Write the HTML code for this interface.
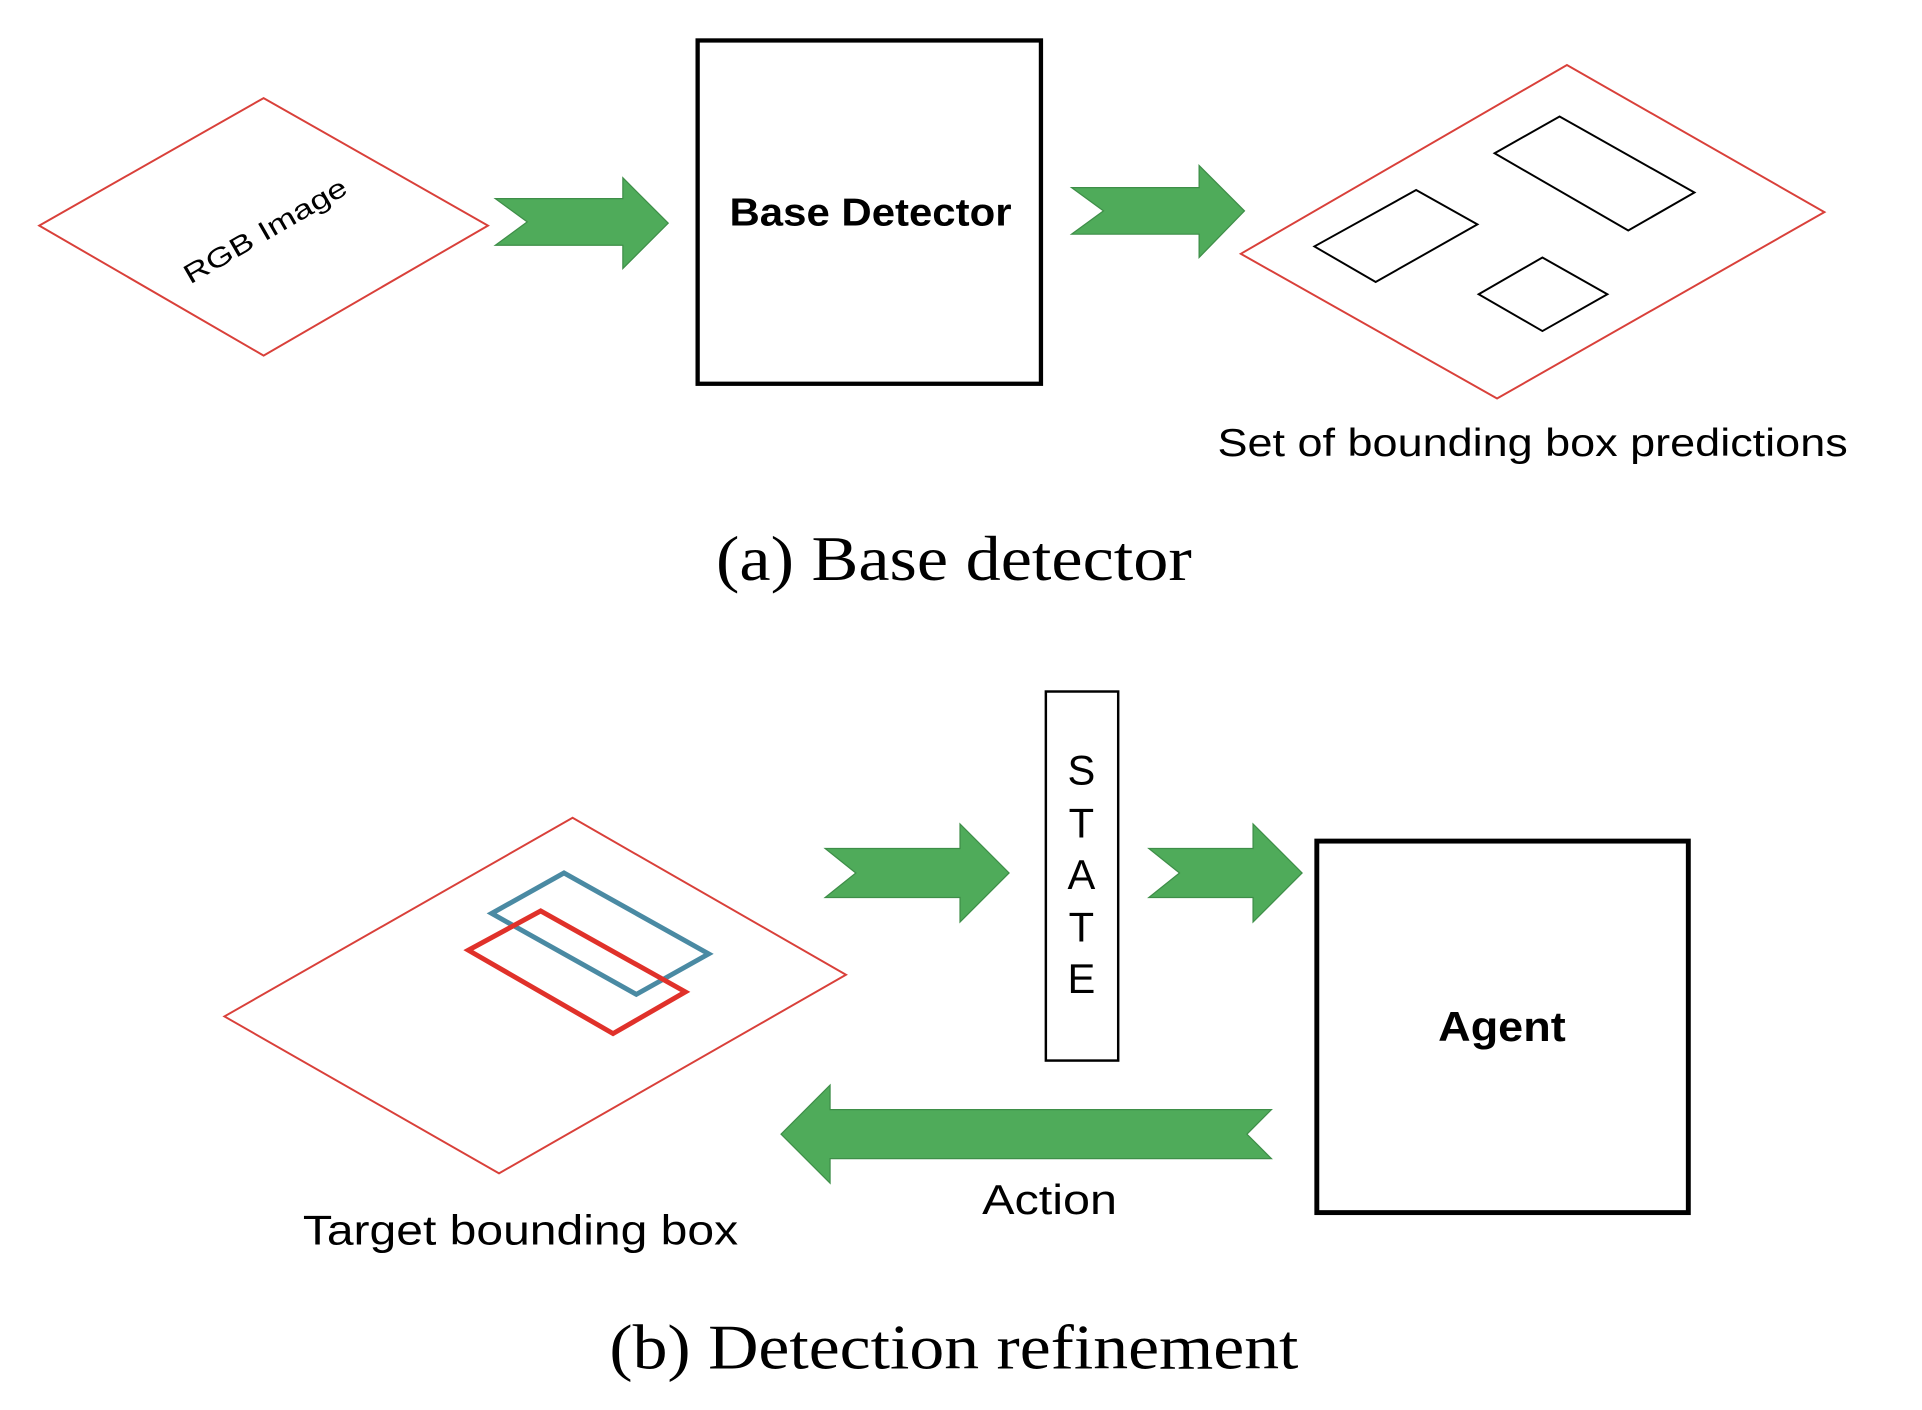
<!DOCTYPE html>
<html><head><meta charset="utf-8"><style>
html,body{margin:0;padding:0;background:#fff;}
svg{display:block;}
</style></head><body>
<svg width="1922" height="1410" viewBox="0 0 1567 1150" preserveAspectRatio="xMinYMin meet" xmlns="http://www.w3.org/2000/svg">
<rect width="1567" height="1150" fill="#fff"/>
<!-- RGB diamond -->
<polygon points="32,184 215,80 398,184 215,290" fill="none" stroke="#d9403a" stroke-width="1.6"/>
<text x="215" y="196" transform="rotate(-30 215 186)" text-anchor="middle" font-family="Liberation Sans, sans-serif" font-size="22" textLength="150" lengthAdjust="spacingAndGlyphs">RGB Image</text>
<!-- arrow 1 -->
<polygon points="404,162 508,162 508,145 545,182 508,219 508,200 404,200 430,181" fill="#4fab5a" stroke="#3e8e48" stroke-width="1"/>
<!-- Base detector box -->
<rect x="569" y="33" width="280" height="280" fill="none" stroke="#000" stroke-width="3.5"/>
<text x="710" y="184" text-anchor="middle" font-family="Liberation Sans, sans-serif" font-weight="bold" font-size="32" textLength="230" lengthAdjust="spacingAndGlyphs">Base Detector</text>
<!-- arrow 2 -->
<polygon points="874,153 978,153 978,135 1015,172 978,210 978,191 874,191 900,172" fill="#4fab5a" stroke="#3e8e48" stroke-width="1"/>
<!-- right diamond -->
<polygon points="1012,207 1278,53 1488,173 1221,325" fill="none" stroke="#d9403a" stroke-width="1.6"/>
<polygon points="1072,201 1155,155 1205,183 1122,230" fill="none" stroke="#000" stroke-width="1.6"/>
<polygon points="1219,125 1272,95 1382,157 1328,188" fill="none" stroke="#000" stroke-width="1.6"/>
<polygon points="1206,240 1258,210 1311,240 1258,270" fill="none" stroke="#000" stroke-width="1.6"/>
<text x="993" y="372" font-family="Liberation Sans, sans-serif" font-size="32" textLength="514" lengthAdjust="spacingAndGlyphs">Set of bounding box predictions</text>
<text x="778" y="473" text-anchor="middle" font-family="Liberation Serif, serif" font-size="52" textLength="388" lengthAdjust="spacingAndGlyphs">(a) Base detector</text>
<!-- bottom diamond -->
<polygon points="183,829 467,667 690,795 407,957" fill="none" stroke="#d9403a" stroke-width="1.6"/>
<polygon points="401,745 460,712 578,778 519,811" fill="none" stroke="#4a8aa3" stroke-width="4"/>
<polygon points="382,775 441,743 559,809 500,843" fill="none" stroke="#e0312a" stroke-width="4"/>
<!-- arrow 3 -->
<polygon points="673,692 783,692 783,672 823,712 783,752 783,732 673,732 698,712" fill="#4fab5a" stroke="#3e8e48" stroke-width="1"/>
<!-- STATE -->
<rect x="853" y="564" width="59" height="301" fill="none" stroke="#000" stroke-width="2"/>
<g font-family="Liberation Sans, sans-serif" font-size="34" text-anchor="middle">
<text x="882" y="640">S</text>
<text x="882" y="683">T</text>
<text x="882" y="725">A</text>
<text x="882" y="768">T</text>
<text x="882" y="810">E</text>
</g>
<!-- arrow 4 -->
<polygon points="937,692 1022,692 1022,672 1062,712 1022,752 1022,732 937,732 962,712" fill="#4fab5a" stroke="#3e8e48" stroke-width="1"/>
<!-- Agent -->
<rect x="1074" y="686" width="303" height="303" fill="none" stroke="#000" stroke-width="4"/>
<text x="1225" y="849" text-anchor="middle" font-family="Liberation Sans, sans-serif" font-weight="bold" font-size="34" textLength="104" lengthAdjust="spacingAndGlyphs">Agent</text>
<!-- back arrow -->
<polygon points="637,925 677,885 677,905 1037,905 1017,925 1037,945 677,945 677,965" fill="#4fab5a" stroke="#3e8e48" stroke-width="1"/>
<text x="856" y="990" text-anchor="middle" font-family="Liberation Sans, sans-serif" font-size="34" textLength="110" lengthAdjust="spacingAndGlyphs">Action</text>
<text x="247" y="1015" font-family="Liberation Sans, sans-serif" font-size="34" textLength="355" lengthAdjust="spacingAndGlyphs">Target bounding box</text>
<text x="778" y="1116" text-anchor="middle" font-family="Liberation Serif, serif" font-size="52" textLength="562" lengthAdjust="spacingAndGlyphs">(b) Detection refinement</text>
</svg>
</body></html>
